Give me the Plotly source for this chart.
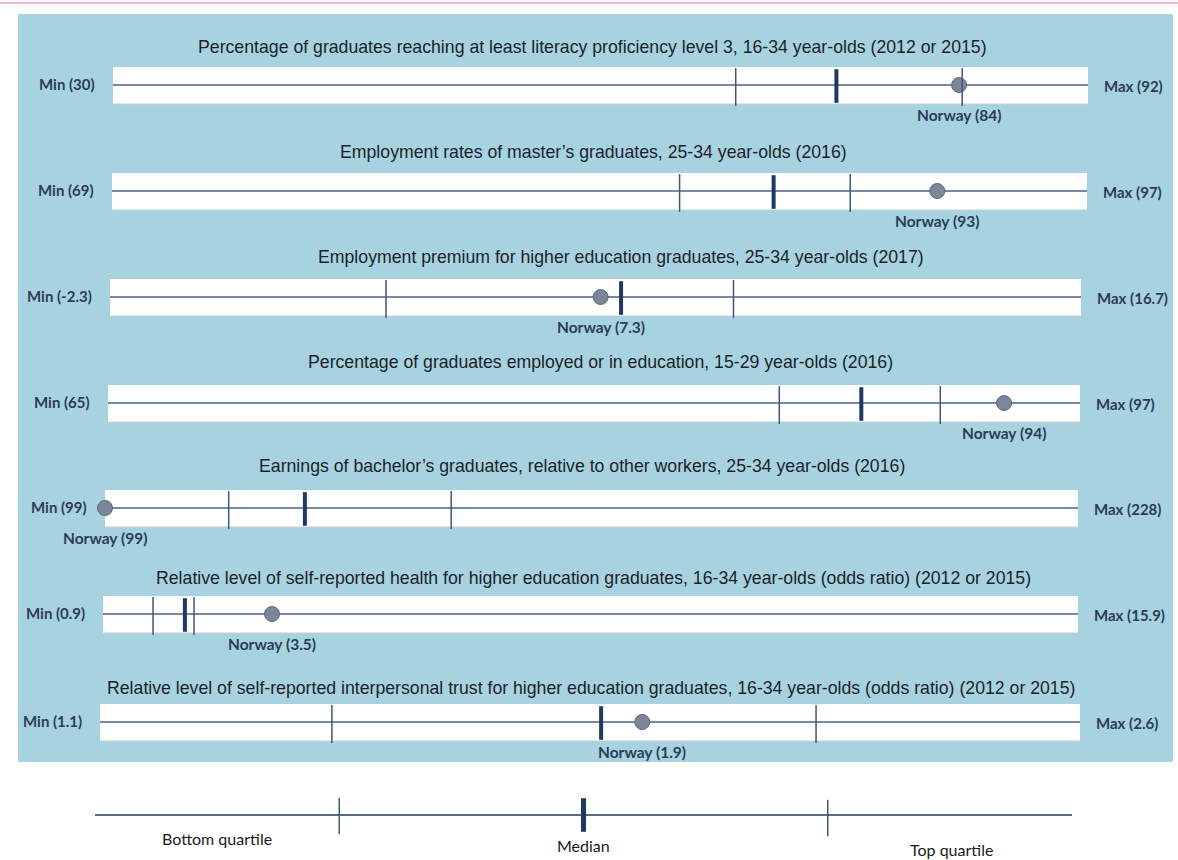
import plotly.graph_objects as go

W, H = 1178, 860

titles = [
    "Percentage of graduates reaching at least literacy proficiency level 3, 16-34 year-olds (2012 or 2015)",
    "Employment rates of master\u2019s graduates, 25-34 year-olds (2016)",
    "Employment premium for higher education graduates, 25-34 year-olds (2017)",
    "Percentage of graduates employed or in education, 15-29 year-olds (2016)",
    "Earnings of bachelor\u2019s graduates, relative to other workers, 25-34 year-olds (2016)",
    "Relative level of self-reported health for higher education graduates, 16-34 year-olds (odds ratio) (2012 or 2015)",
    "Relative level of self-reported interpersonal trust for higher education graduates, 16-34 year-olds (odds ratio) (2012 or 2015)",
]
min_values = [30, 69, -2.3, 65, 99, 0.9, 1.1]
max_values = [92, 97, 16.7, 97, 228, 15.9, 2.6]
bottom_quartile = [69.6, 85.3, 3.1, 87.1, 115.4, 1.67, 1.455]
median_values = [76.0, 88.0, 7.7, 89.8, 125.5, 2.16, 1.867]
top_quartile = [84.0, 90.2, 9.9, 92.4, 144.9, 2.30, 2.196]
norway_values = [83.8, 92.7, 7.3, 94.5, 99, 3.5, 1.93]
norway_labels = ["84", "93", "7.3", "94", "99", "3.5", "1.9"]

legend_ticks = [0.25, 0.5, 0.75]
legend_labels = ["Bottom quartile", "Median", "Top quartile"]

# layout geometry (pixels)
row_left = [113, 112, 110, 108, 105, 103, 100]
row_right = [1088, 1087, 1081, 1080, 1078, 1078, 1080]
row_y = [85, 191, 297, 403, 508, 614, 722]
title_y = [47, 152, 257, 362, 466, 578, 688]
title_x = [592, 593, 621, 600, 582, 593, 591]

LINE = "#4b6385"
DARK = "#1f3a62"
TXT = "#2e3b57"
PANEL = "#a6d3df"
LABEL_FONT = "Lato, Noto Sans"

fig = go.Figure()
shapes = []
annotations = []

# top pink rule and blue panel
shapes.append(dict(type="line", xref="paper", yref="y", x0=0, x1=1, y0=3, y1=3,
                   line=dict(color="#efb6d6", width=2), layer="below"))
shapes.append(dict(type="rect", xref="paper", yref="y", x0=18 / W, x1=1173 / W, y0=14, y1=762,
                   fillcolor=PANEL, line=dict(width=0), layer="below"))

layout_axes = {}
for i in range(7):
    k = "" if i == 0 else str(i + 1)
    xname = "x" + k
    ly = row_y[i]
    layout_axes["xaxis" + k] = dict(domain=[row_left[i] / W, row_right[i] / W],
                                    range=[min_values[i], max_values[i]],
                                    anchor="y", visible=False, fixedrange=True)
    # white strip
    shapes.append(dict(type="rect", xref=xname + " domain", yref="y", x0=0, x1=1,
                       y0=ly - 18, y1=ly + 19, fillcolor="white",
                       line=dict(width=0), layer="below"))
    shapes.append(dict(type="line", xref=xname + " domain", yref="y", x0=0, x1=1,
                       y0=ly + 19, y1=ly + 19, line=dict(color="#c9cfd3", width=1.2),
                       layer="below"))
    # track line
    fig.add_trace(go.Scatter(x=[min_values[i], max_values[i]], y=[ly, ly], xaxis=xname, yaxis="y",
                             mode="lines", line=dict(color=LINE, width=1.6),
                             hoverinfo="skip", showlegend=False, cliponaxis=False))
    # Norway dot
    fig.add_trace(go.Scatter(x=[norway_values[i]], y=[ly], xaxis=xname, yaxis="y", mode="markers",
                             marker=dict(symbol="circle", size=15, color="#7d8698",
                                         line=dict(color="#5d6679", width=1)),
                             showlegend=False, cliponaxis=False))
    # quartile ticks
    fig.add_trace(go.Scatter(x=[bottom_quartile[i], top_quartile[i]], y=[ly + 2, ly + 2],
                             xaxis=xname, yaxis="y", mode="markers",
                             marker=dict(symbol="line-ns", size=27,
                                         line=dict(color="#3f5676", width=1.5)),
                             showlegend=False, cliponaxis=False))
    # median tick
    fig.add_trace(go.Scatter(x=[median_values[i]], y=[ly + 1], xaxis=xname, yaxis="y",
                             mode="markers",
                             marker=dict(symbol="line-ns", size=24,
                                         line=dict(color=DARK, width=4)),
                             showlegend=False, cliponaxis=False))
    # texts
    annotations.append(dict(text=titles[i], xref="paper", yref="y", x=title_x[i] / W, y=title_y[i],
                            showarrow=False, xanchor="center", yanchor="middle",
                            font=dict(family="Liberation Sans Narrow, Arial Narrow, Liberation Sans",
                                      size=17.7, color="#1e1e2a")))
    annotations.append(dict(text=f"Min ({min_values[i]:g})", xref=xname, yref="y",
                            x=min_values[i], y=ly - 1, xshift=-16, showarrow=False,
                            xanchor="right", yanchor="middle",
                            font=dict(family=LABEL_FONT, size=15, color=TXT, weight="bold")))
    annotations.append(dict(text=f"Max ({max_values[i]:g})", xref=xname, yref="y",
                            x=max_values[i], y=ly + 1, xshift=14, showarrow=False,
                            xanchor="left", yanchor="middle",
                            font=dict(family=LABEL_FONT, size=15, color=TXT, weight="bold")))
    annotations.append(dict(text=f"Norway ({norway_labels[i]})", xref=xname, yref="y",
                            x=norway_values[i], y=ly + 30, showarrow=False,
                            xanchor="center", yanchor="middle",
                            font=dict(family=LABEL_FONT, size=15.5, color=TXT, weight="bold")))

# legend row
LY = 815
layout_axes["xaxis8"] = dict(domain=[95 / W, 1072 / W], range=[0, 1], anchor="y",
                             visible=False, fixedrange=True)
fig.add_trace(go.Scatter(x=[0, 1], y=[LY, LY], xaxis="x8", yaxis="y", mode="lines",
                         line=dict(color="#5a6b85", width=2), showlegend=False, cliponaxis=False))
fig.add_trace(go.Scatter(x=[legend_ticks[0], legend_ticks[2]], y=[LY + 1, LY + 3], xaxis="x8", yaxis="y",
                         mode="markers", marker=dict(symbol="line-ns", size=26,
                                                     line=dict(color="#3f5676", width=1.5)),
                         showlegend=False, cliponaxis=False))
fig.add_trace(go.Scatter(x=[legend_ticks[1]], y=[LY], xaxis="x8", yaxis="y", mode="markers",
                         marker=dict(symbol="line-ns", size=24, line=dict(color=DARK, width=5)),
                         showlegend=False, cliponaxis=False))
legend_label_pos = [(217, 838), (583, 845), (951, 849)]
for lab, (lx, lyy) in zip(legend_labels, legend_label_pos):
    annotations.append(dict(text=lab, xref="paper", yref="y", x=lx / W, y=lyy, showarrow=False,
                            xanchor="center", yanchor="middle",
                            font=dict(family=LABEL_FONT, size=16, color="#1a1a1a")))

fig.update_layout(
    width=W, height=H, margin=dict(l=0, r=0, t=0, b=0),
    paper_bgcolor="white", plot_bgcolor="rgba(0,0,0,0)",
    yaxis=dict(domain=[0, 1], range=[H, 0], visible=False, fixedrange=True, anchor="x"),
    shapes=shapes, annotations=annotations, showlegend=False,
    **layout_axes,
)

fig.write_html("out.html", config={"displayModeBar": False},
               post_script="document.body.style.margin='0';")
